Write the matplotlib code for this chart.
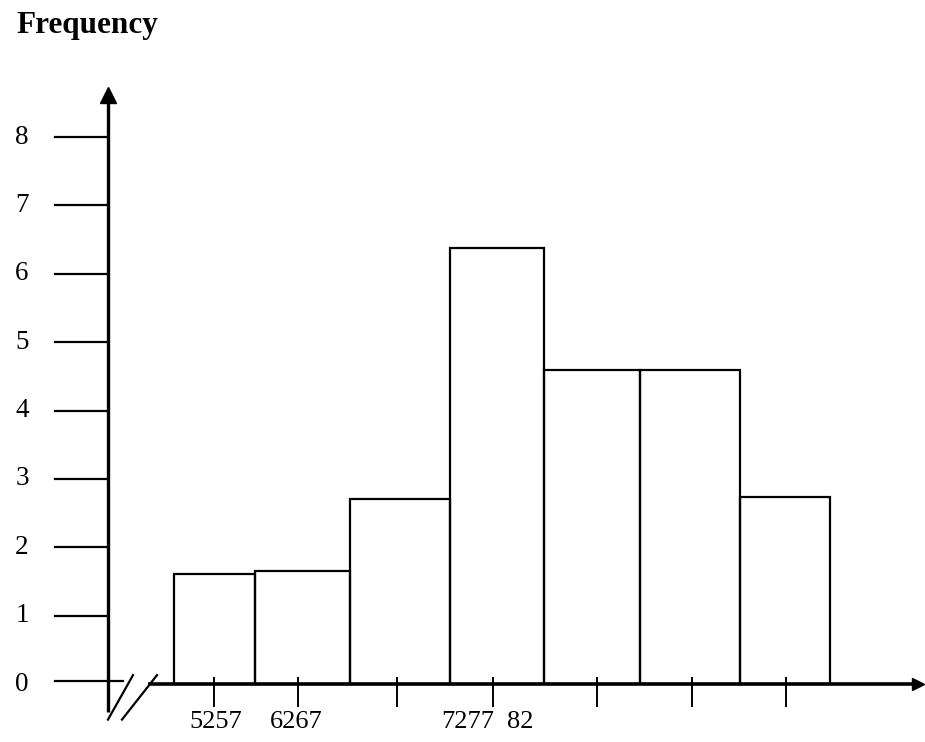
import matplotlib
matplotlib.use("Agg")
import matplotlib.pyplot as plt

plt.rcParams['font.family'] = ['Liberation Serif', 'DejaVu Serif']

# Histogram data (x in drawing units, 1 unit ~ 100 px from the y axis)
bar_left = [0.66, 1.47, 2.42, 3.42, 4.36, 5.32, 6.32]
bar_width = [0.81, 0.95, 1.00, 0.94, 0.96, 1.00, 0.90]
freq = [1.61, 1.65, 2.70, 6.37, 4.59, 4.59, 2.73]

y_ticks = [0, 1, 2, 3, 4, 5, 6, 7, 8]
x_ticks = [1.06, 1.90, 2.89, 3.85, 4.89, 5.84, 6.78]
x_labels = ["5257", "6267", "7277", "82"]
x_label_pos = [1.08, 1.88, 3.60, 4.12]

fig = plt.figure(figsize=(9.25, 7.42), dpi=100)
ax = fig.add_axes([0, 0, 1, 1])
ax.set_xlim(-1.08, 8.17)
ax.set_ylim(-0.848, 10.004)
ax.axis('off')

# bars (outline only)
ax.bar(bar_left, freq, width=bar_width, align='edge', fill=False,
       edgecolor='black', linewidth=1.6)

# y axis with arrow
ax.plot([0, 0], [-0.41, 8.55], color='black', lw=2.4, solid_capstyle='butt')
ax.plot([0], [8.62], marker='^', color='black', markersize=11)

# x axis with arrow (starts after the break)
ax.plot([0.40, 8.08], [0, 0], color='black', lw=2.6, solid_capstyle='butt')
ax.plot([8.10], [0], marker='>', color='black', markersize=9)

# axis break marks
ax.plot([0.0, 0.25], [-0.52, 0.13], color='black', lw=1.6)
ax.plot([0.14, 0.49], [-0.52, 0.13], color='black', lw=1.6)

# y ticks (drawn on the left of the axis) and labels
for t in y_ticks:
    right = 0.15 if t == 0 else 0
    yy = t + 0.04 if t == 0 else t
    ax.plot([-0.53, right], [yy, yy], color='black', lw=1.6)
    ax.text(-0.86, t, str(t), fontsize=19.5, ha='center', va='center')

# x ticks
for t in x_ticks:
    ax.plot([t, t], [0.09, -0.32], color='black', lw=1.4)

for pos, lab in zip(x_label_pos, x_labels):
    ax.text(pos, -0.56, lab, fontsize=19, ha='center', va='center')

fig.text(16 / 925, 1 - 33 / 742, "Frequency", fontsize=22.5, fontweight='bold',
         ha='left', va='baseline')

fig.savefig("out.png", dpi=100)
